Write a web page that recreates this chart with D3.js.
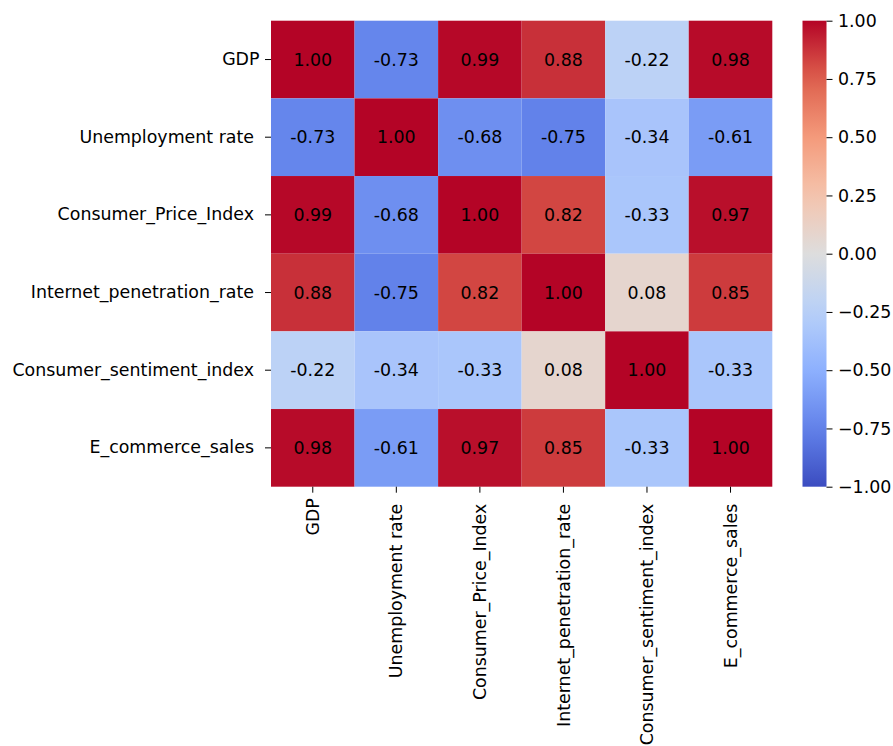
<!DOCTYPE html>
<html><head><meta charset="utf-8">
<script src="https://cdn.jsdelivr.net/npm/d3@7"></script>
<style>body{margin:0;background:#fff;} text{font-family:"DejaVu Sans",sans-serif;}</style>
</head><body>
<svg id="c" width="893" height="746"></svg>
<script>
const labels = ["GDP","Unemployment rate ","Consumer_Price_Index ","Internet_penetration_rate ","Consumer_sentiment_index ","E_commerce_sales "];
const matrix = [
 [1.00,-0.73,0.99,0.88,-0.22,0.98],
 [-0.73,1.00,-0.68,-0.75,-0.34,-0.61],
 [0.99,-0.68,1.00,0.82,-0.33,0.97],
 [0.88,-0.75,0.82,1.00,0.08,0.85],
 [-0.22,-0.34,-0.33,0.08,1.00,-0.33],
 [0.98,-0.61,0.97,0.85,-0.33,1.00]
];
const cbarTicks = [1.00,0.75,0.50,0.25,0.00,-0.25,-0.50,-0.75,-1.00];
const cwStops = [[59,76,192],[98,130,234],[141,176,254],[184,208,249],[221,221,221],[245,196,173],[244,154,123],[222,96,77],[180,4,38]];

const interp = d3.piecewise(d3.interpolateRgb, cwStops.map(c=>d3.rgb(c[0],c[1],c[2])));
const color = v => interp((v+1)/2);

const svg = d3.select("#c");
const L=271, T=20.7, R=772.3, B=486.7;
const x = d3.scaleBand().domain(labels).range([L,R]);
const y = d3.scaleBand().domain(labels).range([T,B]);
const fs = 17.4;
const tk = 6, pad = 5.5;

const cells = [];
matrix.forEach((row,i)=>row.forEach((v,j)=>cells.push({r:labels[i],c:labels[j],v})));
const g = svg.append("g");
g.selectAll("rect").data(cells).enter().append("rect")
 .attr("x",d=>x(d.c)).attr("y",d=>y(d.r)).attr("width",x.bandwidth()).attr("height",y.bandwidth())
 .attr("fill",d=>color(d.v));
g.selectAll("text").data(cells).enter().append("text")
 .attr("x",d=>x(d.c)+x.bandwidth()/2).attr("y",d=>y(d.r)+y.bandwidth()/2)
 .attr("text-anchor","middle").attr("dominant-baseline","central")
 .attr("font-size",fs).attr("fill","#000")
 .text(d=>d.v.toFixed(2));

// y axis
const ya = svg.append("g").attr("transform",`translate(${L},0)`)
 .call(d3.axisLeft(y).tickSize(tk).tickPadding(pad));
ya.select(".domain").remove();
ya.selectAll("text").attr("font-size",fs).attr("fill","#000").style("font-family","DejaVu Sans").style("white-space","pre");
ya.selectAll("line").attr("stroke","#000").attr("stroke-width",1);

// x axis
const xa = svg.append("g").attr("transform",`translate(0,${B})`)
 .call(d3.axisBottom(x).tickSize(tk).tickPadding(pad));
xa.select(".domain").remove();
xa.selectAll("line").attr("stroke","#000").attr("stroke-width",1);
xa.selectAll("text").attr("font-size",fs).attr("fill","#000").style("font-family","DejaVu Sans").style("white-space","pre")
 .attr("transform","rotate(-90)").attr("text-anchor","end")
 .attr("x",-(tk+pad)).attr("y",0).attr("dy","0.35em");

// colorbar
const cx0=802.5, cx1=826.5;
const cy = d3.scaleLinear().domain([-1,1]).range([B,T]);
const defs = svg.append("defs");
const grad = defs.append("linearGradient").attr("id","cg").attr("x1",0).attr("y1",1).attr("x2",0).attr("y2",0);
d3.range(0,1.0001,0.05).forEach(t=>grad.append("stop").attr("offset",t).attr("stop-color",interp(t)));
svg.append("rect").attr("x",cx0).attr("y",T).attr("width",cx1-cx0).attr("height",B-T).attr("fill","url(#cg)");
const ca = svg.append("g").attr("transform",`translate(${cx1},0)`)
 .call(d3.axisRight(cy).tickValues(cbarTicks).tickSize(tk).tickPadding(pad).tickFormat(d=>d3.format(".2f")(d).replace("-","\u2212")));
ca.select(".domain").remove();
ca.selectAll("line").attr("stroke","#000").attr("stroke-width",1);
ca.selectAll("text").attr("font-size",fs).attr("fill","#000").style("font-family","DejaVu Sans");
</script>
</body></html>
